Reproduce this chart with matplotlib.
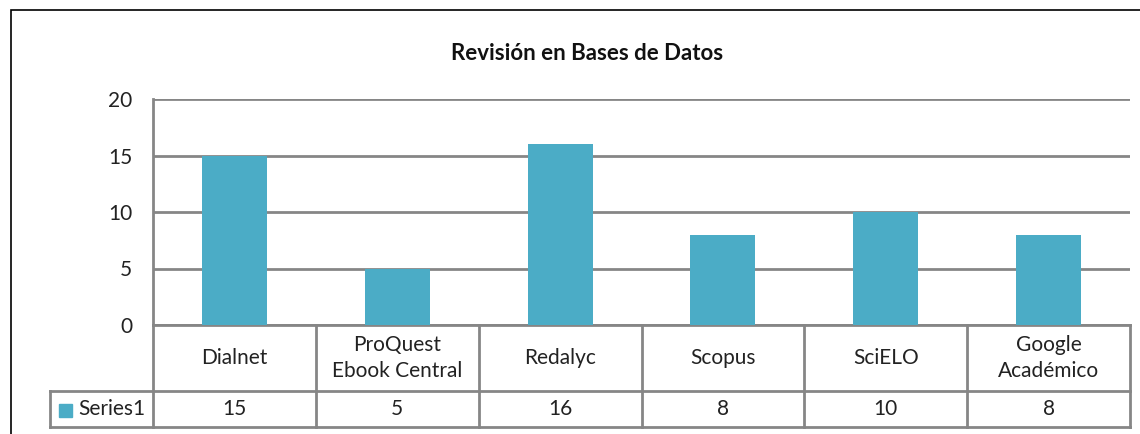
import matplotlib.pyplot as plt
from matplotlib.patches import Rectangle

categorias = ["Dialnet", "ProQuest\nEbook Central", "Redalyc", "Scopus", "SciELO", "Google\nAcadémico"]
valores = [15, 5, 16, 8, 10, 8]
serie = "Series1"
titulo = "Revisión en Bases de Datos"

W, H = 1140, 434
color_barra = "#4BACC6"
gris = "#868686"
plt.rcParams["font.family"] = ["Lato", "DejaVu Sans"]

fig = plt.figure(figsize=(W / 100, H / 100), dpi=100)
# borde exterior del gráfico
fig.patches.append(Rectangle((11 / W, -0.1), 1.2, 1 - 10 / H + 0.1, transform=fig.transFigure,
                             fill=False, edgecolor="black", linewidth=1.2))

x0, x1, y0, y1 = 153, 1130, 99, 325
ax = fig.add_axes([x0 / W, 1 - y1 / H, (x1 - x0) / W, (y1 - y0) / H])
n = len(categorias)
ax.bar(range(n), valores, width=0.4, color=color_barra, zorder=3)
ax.set_xlim(-0.5, n - 0.5)
ax.set_ylim(0, 20)
ax.set_yticks([0, 5, 10, 15, 20])
ax.tick_params(axis="y", length=0, pad=15, labelsize=15, labelcolor="#222222")
ax.tick_params(axis="x", bottom=False, labelbottom=False)
ax.grid(axis="y", color=gris, linewidth=2, zorder=1)
for s in ["top", "right", "bottom"]:
    ax.spines[s].set_visible(False)
ax.spines["left"].set_color(gris)
ax.spines["left"].set_linewidth(2)

fig.text(587 / W, 1 - 54 / H, titulo, ha="center", va="center",
         fontsize=16, fontweight="bold", color="#111111")

# tabla de datos
ph = y1 - y0
r1 = -(391 - y1) / ph
r2 = -(427 - y1) / ph
xl = -(x0 - 50) / (x1 - x0)
kw = dict(transform=ax.transAxes, clip_on=False, color=gris, linewidth=2)
ax.plot([0, 1], [0, 0], **kw)
ax.plot([xl, 1], [r1, r1], **kw)
ax.plot([xl, 1], [r2, r2], **kw)
ax.plot([xl, xl], [r1, r2], **kw)
for i in range(n + 1):
    ax.plot([i / n, i / n], [0, r2], **kw)
for i, (c, v) in enumerate(zip(categorias, valores)):
    xc = (i + 0.5) / n
    ax.text(xc, r1 / 2, c, transform=ax.transAxes, ha="center", va="center",
            fontsize=15, color="#222222", linespacing=1.35)
    ax.text(xc, (r1 + r2) / 2, str(v), transform=ax.transAxes, ha="center", va="center",
            fontsize=15, color="#222222")
ax.add_patch(Rectangle((-(x0 - 59) / (x1 - x0), -(417 - y1) / ph), 13 / (x1 - x0), 13 / ph,
                       transform=ax.transAxes, clip_on=False, color=color_barra))
ax.text(-(x0 - 78) / (x1 - x0), (r1 + r2) / 2, serie, transform=ax.transAxes,
        ha="left", va="center", fontsize=15, color="#222222")

fig.savefig("out.png", dpi=100)
